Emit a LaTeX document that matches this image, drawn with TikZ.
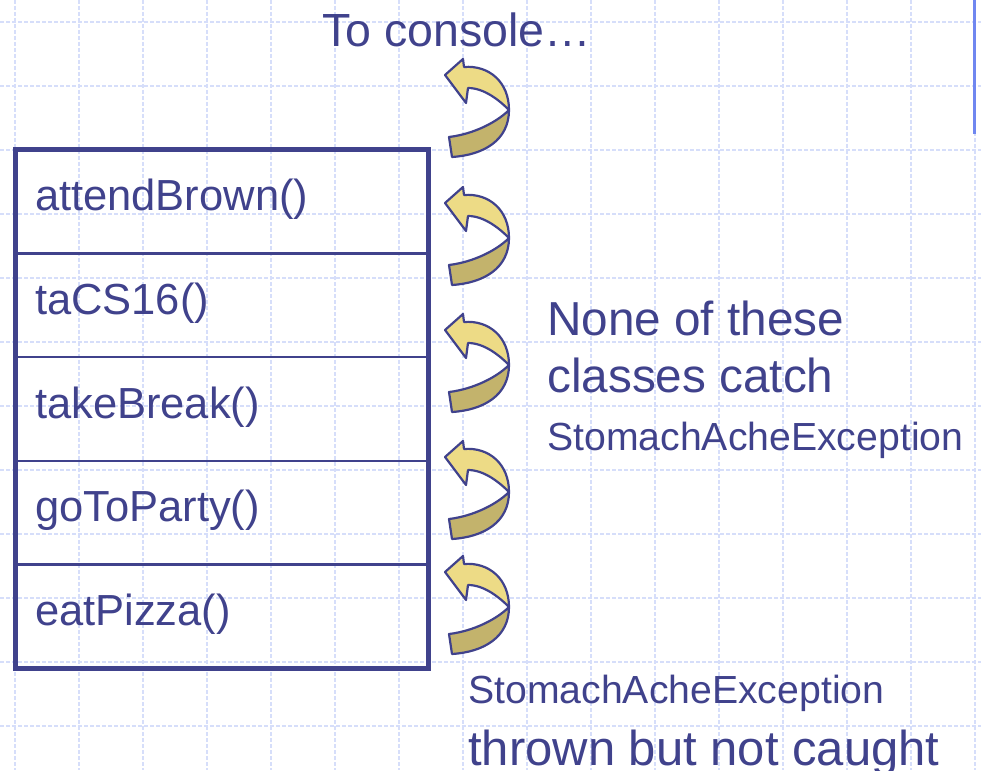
\documentclass[tikz,border=0pt]{standalone}
\usepackage{fontspec}
\setmainfont{Liberation Sans}
\usetikzlibrary{positioning}
\definecolor{inkblue}{HTML}{40428C}
\definecolor{gridblue}{HTML}{D6DEFA}
\definecolor{barblue}{HTML}{7087F0}
\definecolor{paleochre}{HTML}{EDDB86}
\definecolor{deepochre}{HTML}{C3B36C}
\newcommand{\callname}[1]{\makebox[373pt][l]{\raisebox{-9pt}[0pt][0pt]{#1}}}
\tikzset{
  gridline/.style={gridblue, line width=1.3, dash pattern=on 4pt off 2pt},
  stackrow/.style={draw=inkblue, line width=2.5, text=inkblue,
    font=\fontsize{43.5}{52}\selectfont,
    inner xsep=20, inner ysep=0, outer sep=0, minimum height=103.6},
  stackframe/.style={draw=inkblue, line width=5},
  note/.style={text=inkblue, inner sep=0, anchor=base west},
  bounce/.pic={
    \filldraw[fill=paleochre, draw=inkblue, line width=2.2, line join=round]
      (-41,-22) -- (-43,-7) -- (-64,-35) -- (-46,-51) -- (-45,-43)
      .. controls (-20,-45) and (0,-28) .. (0,0)
      .. controls (-10,-10) and (-25,-22) .. cycle;
    \filldraw[fill=deepochre, draw=inkblue, line width=2.2, line join=round]
      (0,0) .. controls (-12,12) and (-35,24) .. (-60,27) -- (-57,47)
      .. controls (-25,45) and (0,30) .. (0,0) -- cycle;
  }
}
\begin{document}
\begin{tikzpicture}[x=1pt, y=-1pt]
  \useasboundingbox (0,0) rectangle (981,770);
  % background grid
  \foreach \gx in {15,79,...,975}
    \draw[gridline] (\gx,0) -- (\gx,770);
  \foreach \gy in {22,86,...,790}
    \draw[gridline] (0,\gy) -- (981,\gy);
  \draw[barblue, line width=2.5] (974.5,0) -- (974.5,134);

  % call stack
  \node[stackrow] (attend) at (221.5,201.8) {\callname{attendBrown()}};
  \node[stackrow, below=0 of attend] (ta) {\callname{taCS16()}};
  \node[stackrow, below=0 of ta] (brk) {\callname{takeBreak()}};
  \node[stackrow, below=0 of brk] (party) {\callname{goToParty()}};
  \node[stackrow, below=0 of party] (pizza) {\callname{eatPizza()}};
  \draw[stackframe] (attend.north west) rectangle (pizza.south east);

  % exception passed upward
  \foreach \ty in {110,238,365,492,607}
    \pic at (509,\ty) {bounce};

  \node[note, font=\fontsize{46.5}{56}\selectfont] (console) at (322,47) {To console…};
  \node[note, font=\fontsize{47.7}{57}\selectfont] (none) at (547,335) {None of these};
  \node[note, font=\fontsize{47.7}{57}\selectfont] (classes) at (547,392) {classes catch};
  \node[note, font=\fontsize{39.2}{47}\selectfont] (excname) at (547,450) {StomachAcheException};
  \node[note, font=\fontsize{39.2}{47}\selectfont] (thrown) at (468,703) {StomachAcheException};
  \node[note, font=\fontsize{49}{58}\selectfont] (caught) at (468,765) {thrown but not caught};
\end{tikzpicture}
\end{document}
